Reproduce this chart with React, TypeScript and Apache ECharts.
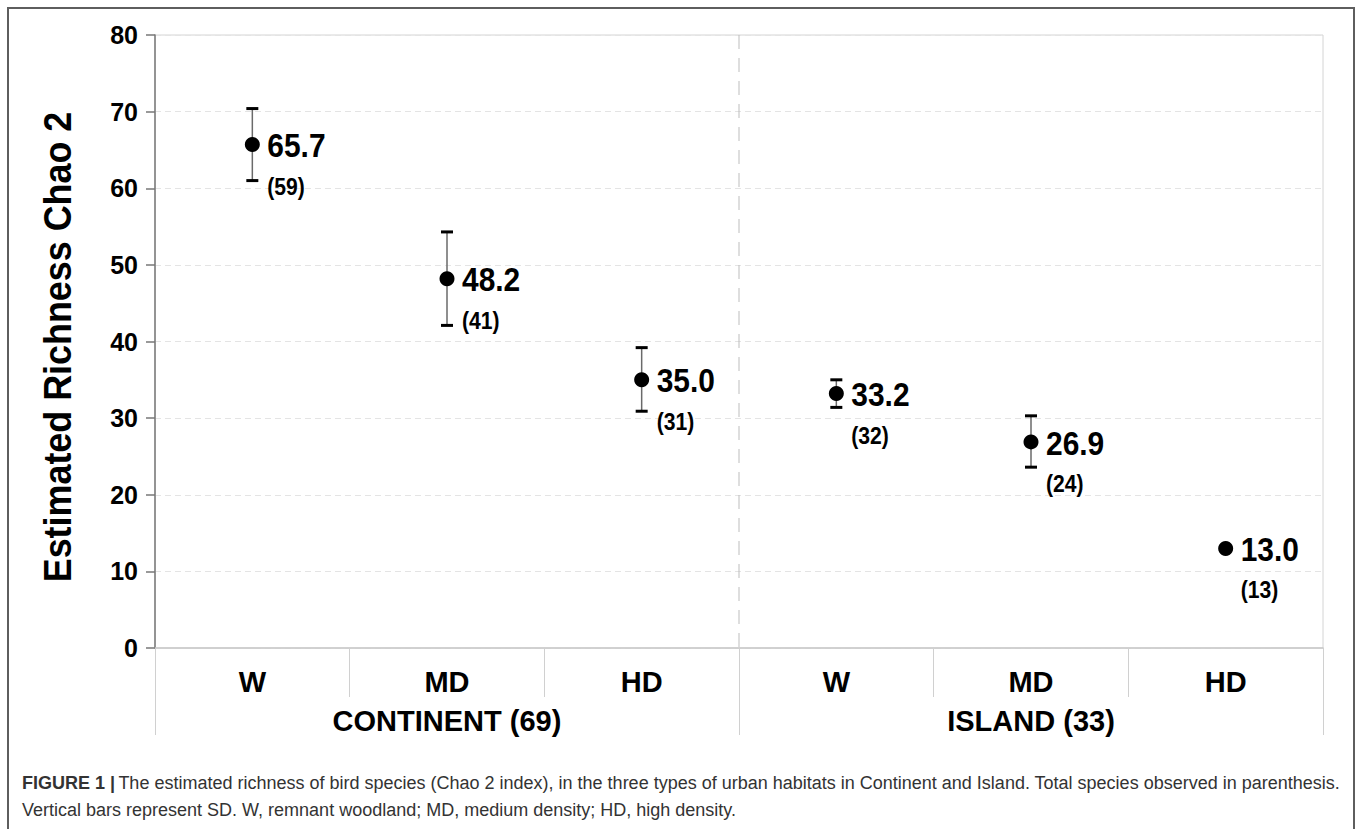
import React, { useEffect, useRef } from "react";
import * as echarts from "echarts";

const habitats = ["W", "MD", "HD", "W", "MD", "HD"];
const regions = ["CONTINENT (69)", "ISLAND (33)"];
const chao2 = [65.7, 48.2, 35.0, 33.2, 26.9, 13.0];
const observed = [59, 41, 31, 32, 24, 13];
const sdLow = [61.0, 42.1, 30.9, 31.4, 23.6, null];
const sdHigh = [70.4, 54.3, 39.2, 35.0, 30.3, null];
const yTicks = [0, 10, 20, 30, 40, 50, 60, 70, 80];
const yTitle = "Estimated Richness Chao 2";
const captionBold = "FIGURE 1 |";
const captionLine1 =
  "The estimated richness of bird species (Chao 2 index), in the three types of urban habitats in Continent and Island. Total species observed in parenthesis.";
const captionLine2 =
  "Vertical bars represent SD. W, remnant woodland; MD, medium density; HD, high density.";

const FONT = "'Liberation Sans', Arial, Helvetica, sans-serif";
const SQUEEZE = 0.88;

export default function App() {
  const ref = useRef<HTMLDivElement>(null);
  useEffect(() => {
    if (!ref.current) return;
    const chart = echarts.init(ref.current, null, { renderer: "svg" });
    const errData = habitats.map((_, i) => [i, chao2[i], sdLow[i], sdHigh[i]]);
    const option: any = {
      animation: false,
      backgroundColor: "#ffffff",
      grid: {
        left: 155,
        right: 35,
        top: 35,
        bottom: 181,
        show: true,
        borderColor: "#d4d4d4",
        borderWidth: 1,
      },
      xAxis: [
        {
          type: "category",
          data: habitats,
          position: "bottom",
          boundaryGap: true,
          axisLine: { show: true, lineStyle: { color: "#c8c8c8", width: 1.5 } },
          axisTick: { show: true, length: 49, lineStyle: { color: "#d0d0d0", width: 1 } },
          axisLabel: {
            margin: 19,
            color: "#000",
            fontFamily: FONT,
            fontWeight: "bold",
            fontSize: 29,
          },
          splitLine: { show: false },
        },
        {
          type: "category",
          data: regions,
          position: "bottom",
          boundaryGap: true,
          axisLine: { show: false },
          axisTick: { show: true, length: 87, lineStyle: { color: "#d0d0d0", width: 1 } },
          axisLabel: {
            margin: 58,
            color: "#000",
            fontFamily: FONT,
            fontWeight: "bold",
            fontSize: 29,
          },
          splitLine: { show: false },
        },
      ],
      yAxis: {
        type: "value",
        min: 0,
        max: 80,
        interval: 10,
        axisLine: { show: true, lineStyle: { color: "#777", width: 1.5 } },
        axisTick: { show: true, length: 9, lineStyle: { color: "#777", width: 1.5 } },
        axisLabel: {
          margin: 17,
          color: "#000",
          fontFamily: FONT,
          fontWeight: "bold",
          fontSize: 25,
          formatter: (v: number) => (yTicks.includes(v) ? String(v) : ""),
        },
        splitLine: { show: true, lineStyle: { color: "#e4e4e4", width: 1, type: [6, 4] } },
      },
      series: [
        {
          type: "custom",
          xAxisIndex: 1,
          yAxisIndex: 0,
          z: 1,
          silent: true,
          data: [[1]],
          renderItem: (params: any, api: any) => {
            const c = api.coord([api.value(0), 80]);
            const c0 = api.coord([api.value(0), 0]);
            const band = api.size([1, 0])[0];
            const x = c[0] - band / 2;
            return {
              type: "line",
              shape: { x1: x, y1: c[1], x2: x, y2: c0[1] },
              style: { stroke: "#bdbdbd", lineWidth: 1, lineDash: [14, 9] },
            };
          },
        },
        {
          type: "custom",
          xAxisIndex: 0,
          yAxisIndex: 0,
          z: 3,
          silent: true,
          data: errData,
          renderItem: (params: any, api: any) => {
            const i = params.dataIndex;
            const x = api.value(0);
            const p = api.coord([x, api.value(1)]);
            const children: any[] = [];
            const lo = sdLow[i];
            const hi = sdHigh[i];
            if (lo != null && hi != null) {
              const pHi = api.coord([x, api.value(3)]);
              const pLo = api.coord([x, api.value(2)]);
              const hw = 6;
              children.push(
                {
                  type: "line",
                  shape: { x1: pHi[0], y1: pHi[1], x2: pLo[0], y2: pLo[1] },
                  style: { stroke: "#6a6a6a", lineWidth: 1.5 },
                },
                {
                  type: "line",
                  shape: { x1: pHi[0] - hw, y1: pHi[1], x2: pHi[0] + hw, y2: pHi[1] },
                  style: { stroke: "#000", lineWidth: 3 },
                },
                {
                  type: "line",
                  shape: { x1: pLo[0] - hw, y1: pLo[1], x2: pLo[0] + hw, y2: pLo[1] },
                  style: { stroke: "#000", lineWidth: 3 },
                }
              );
            }
            children.push(
              {
                type: "text",
                x: p[0] + 15,
                y: p[1] + 1,
                scaleX: SQUEEZE,
                style: {
                  text: chao2[i].toFixed(1),
                  fill: "#000",
                  fontFamily: FONT,
                  fontWeight: "bold",
                  fontSize: 34,
                  align: "left",
                  verticalAlign: "middle",
                },
              },
              {
                type: "text",
                x: p[0] + 15,
                y: p[1] + 42,
                scaleX: SQUEEZE,
                style: {
                  text: `(${observed[i]})`,
                  fill: "#000",
                  fontFamily: FONT,
                  fontWeight: "bold",
                  fontSize: 24,
                  align: "left",
                  verticalAlign: "middle",
                },
              }
            );
            return { type: "group", children };
          },
        },
        {
          type: "scatter",
          xAxisIndex: 0,
          yAxisIndex: 0,
          z: 5,
          symbol: "circle",
          symbolSize: 15,
          itemStyle: { color: "#000", opacity: 1 },
          data: chao2.map((v, i) => [i, v]),
        },
      ],
      graphic: [
        {
          type: "rect",
          silent: true,
          shape: { x: 8, y: 8, width: 1346, height: 900 },
          style: { fill: "none", stroke: "#5e5e5e", lineWidth: 2 },
        },
        {
          type: "text",
          x: 57,
          y: 347,
          rotation: Math.PI / 2,
          scaleX: 0.92,
          silent: true,
          style: {
            text: yTitle,
            fill: "#000",
            fontFamily: FONT,
            fontWeight: "bold",
            fontSize: 39,
            align: "center",
            verticalAlign: "middle",
          },
        },
        {
          type: "text",
          left: 22,
          top: 774,
          style: {
            text: `{b|${captionBold}} {r|${captionLine1}}`,
            rich: {
              b: { fontFamily: FONT, fontWeight: "bold", fontSize: 18, fill: "#333" },
              r: { fontFamily: FONT, fontSize: 18, fill: "#333" },
            },
          },
        },
        {
          type: "text",
          left: 22,
          top: 801,
          style: {
            text: captionLine2,
            fontFamily: FONT,
            fontSize: 18,
            fill: "#333",
          },
        },
      ],
    };
    chart.setOption(option);
    return () => chart.dispose();
  }, []);
  return (
    <div
      ref={ref}
      style={{ position: "fixed", left: 0, top: 0, width: 1358, height: 829 }}
    />
  );
}
